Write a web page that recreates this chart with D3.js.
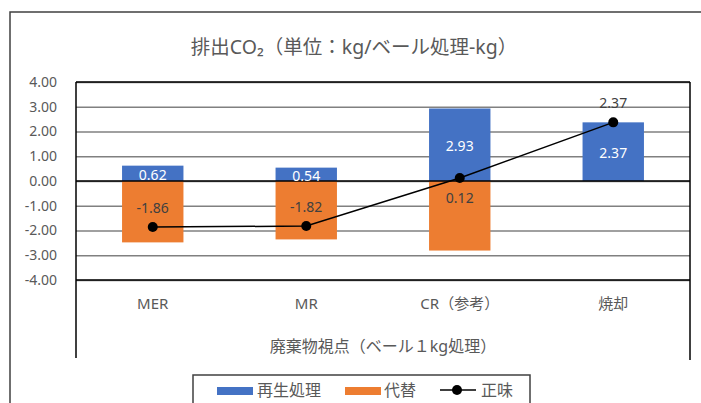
<!DOCTYPE html>
<html>
<head>
<meta charset="utf-8">
<script src="https://cdn.jsdelivr.net/npm/d3@7/dist/d3.min.js"></script>
<style>
  html, body { margin: 0; padding: 0; background: #fff; }
  svg { display: block; }
  text { font-family: "Noto Sans", "Noto Sans CJK JP", sans-serif; fill: #595959; }
</style>
</head>
<body>
<svg id="chart" width="701" height="403"></svg>
<script>
// CO2 emissions per kg of processed bale, by treatment route
const categories = ["MER", "MR", "CR（参考）", "焼却"];
const recycleValues = [0.62, 0.54, 2.93, 2.37];      // 再生処理
const substituteValues = [-2.48, -2.36, -2.81, 0];   // 代替
const netValues = [-1.86, -1.82, 0.12, 2.37];        // 正味
const yTicks = [-4, -3, -2, -1, 0, 1, 2, 3, 4];
const seriesNames = ["再生処理", "代替", "正味"];
const chartTitle = "排出CO₂（単位：kg/ベール処理-kg）";
const xAxisTitle = "廃棄物視点（ベール１kg処理）";

const BLUE = "#4472C4", ORANGE = "#ED7D31";

const svg = d3.select("#chart");
const plot = { left: 76, right: 690, top: 82, bottom: 280 };

const fmt = d3.formatLocale({ decimal: ".", thousands: ",", grouping: [3], currency: ["", ""], minus: "-" }).format(".2f");

const x = d3.scaleBand().domain(categories).range([plot.left, plot.right])
  .paddingInner(0.6).paddingOuter(0.3);
const y = d3.scaleLinear().domain([-4, 4]).range([plot.bottom, plot.top]);

// outer chart frame
svg.append("rect").attr("x", 10).attr("y", 12).attr("width", 720).attr("height", 394)
  .attr("fill", "none").attr("stroke", "#404040").attr("stroke-width", 1.5);

// title
svg.append("text").attr("x", 354).attr("y", 46).attr("text-anchor", "middle")
  .attr("dominant-baseline", "central").style("font-size", "19.5px").text(chartTitle);

// horizontal gridlines
svg.append("g").attr("transform", `translate(${plot.left},0)`)
  .call(d3.axisLeft(y).tickValues(yTicks).tickSize(-(plot.right - plot.left)).tickFormat(""))
  .call(g => g.select(".domain").remove())
  .call(g => g.selectAll("line").attr("stroke", "#808080").attr("stroke-width", 1.5));

// y tick labels
svg.append("g").attr("transform", `translate(${plot.left},0)`)
  .call(d3.axisLeft(y).tickValues(yTicks).tickSize(0).tickPadding(19).tickFormat(fmt))
  .call(g => g.select(".domain").remove())
  .call(g => g.selectAll("text").style("font-size", "14px").attr("fill", "#595959")
    .style("font-family", "'Noto Sans', sans-serif"));

// stacked bars
const rows = categories.map((c, i) => ({ cat: c, rec: recycleValues[i], sub: substituteValues[i], net: netValues[i] }));

svg.append("g").selectAll("rect").data(rows.filter(d => d.sub !== 0)).join("rect")
  .attr("x", d => x(d.cat)).attr("width", x.bandwidth())
  .attr("y", d => y(0)).attr("height", d => y(d.sub) - y(0))
  .attr("fill", ORANGE);

svg.append("g").selectAll("rect").data(rows).join("rect")
  .attr("x", d => x(d.cat)).attr("width", x.bandwidth())
  .attr("y", d => y(d.rec)).attr("height", d => y(0) - y(d.rec))
  .attr("fill", BLUE);

// plot frame and zero line
const frame = svg.append("g").attr("stroke", "#000").attr("stroke-width", 1.5).attr("fill", "none");
frame.append("line").attr("x1", plot.left).attr("x2", plot.right).attr("y1", plot.top).attr("y2", plot.top);
frame.append("line").attr("x1", plot.left).attr("x2", plot.right).attr("y1", plot.bottom).attr("y2", plot.bottom);
frame.append("line").attr("x1", plot.left).attr("x2", plot.left).attr("y1", plot.top).attr("y2", 358);
frame.append("line").attr("x1", plot.right).attr("x2", plot.right).attr("y1", plot.top).attr("y2", 360);
frame.append("line").attr("x1", plot.left).attr("x2", plot.right).attr("y1", y(0)).attr("y2", y(0));

// blue bar labels
svg.append("g").selectAll("text").data(rows).join("text")
  .attr("x", d => x(d.cat) + x.bandwidth() / 2)
  .attr("y", d => y(d.rec / 2) + 1)
  .attr("text-anchor", "middle").attr("dominant-baseline", "central")
  .style("font-size", "14px").style("fill", "#fff")
  .text(d => fmt(d.rec));

// net line with markers
const cx = d => x(d.cat) + x.bandwidth() / 2;
svg.append("path").datum(rows)
  .attr("d", d3.line().x(cx).y(d => y(d.net)))
  .attr("fill", "none").attr("stroke", "#000").attr("stroke-width", 1.5);
svg.append("g").selectAll("circle").data(rows).join("circle")
  .attr("cx", cx).attr("cy", d => y(d.net)).attr("r", 5).attr("fill", "#000");

// net labels: above the marker, below it when the point sits on the zero line
svg.append("g").selectAll("text").data(rows).join("text")
  .attr("x", cx)
  .attr("y", d => Math.abs(d.net) < 0.5 ? y(d.net) + 19 : y(d.net) - 20)
  .attr("text-anchor", "middle").attr("dominant-baseline", "central")
  .style("font-size", "14px").style("fill", "#404040")
  .text(d => fmt(d.net));

// category labels
svg.append("g").selectAll("text").data(categories).join("text")
  .attr("x", d => x(d) + x.bandwidth() / 2).attr("y", 303)
  .attr("text-anchor", "middle").attr("dominant-baseline", "central")
  .style("font-size", "15px").text(d => d);

// x-axis title
svg.append("text").attr("x", (plot.left + plot.right) / 2).attr("y", 346)
  .attr("text-anchor", "middle").attr("dominant-baseline", "central")
  .style("font-size", "16px").text(xAxisTitle);

// legend
const lg = svg.append("g");
lg.append("rect").attr("x", 193).attr("y", 375).attr("width", 337).attr("height", 40)
  .attr("fill", "#fff").attr("stroke", "#404040").attr("stroke-width", 1.5);
lg.append("rect").attr("x", 217).attr("y", 387).attr("width", 36).attr("height", 8).attr("fill", BLUE);
lg.append("text").attr("x", 257).attr("y", 390).attr("dominant-baseline", "central")
  .style("font-size", "16px").text(seriesNames[0]);
lg.append("rect").attr("x", 345).attr("y", 387).attr("width", 36).attr("height", 8).attr("fill", ORANGE);
lg.append("text").attr("x", 384).attr("y", 390).attr("dominant-baseline", "central")
  .style("font-size", "16px").text(seriesNames[1]);
lg.append("line").attr("x1", 440).attr("x2", 476).attr("y1", 390).attr("y2", 390)
  .attr("stroke", "#000").attr("stroke-width", 1.5);
lg.append("circle").attr("cx", 457).attr("cy", 390).attr("r", 5).attr("fill", "#000");
lg.append("text").attr("x", 481).attr("y", 390).attr("dominant-baseline", "central")
  .style("font-size", "16px").text(seriesNames[2]);
</script>
</body>
</html>
